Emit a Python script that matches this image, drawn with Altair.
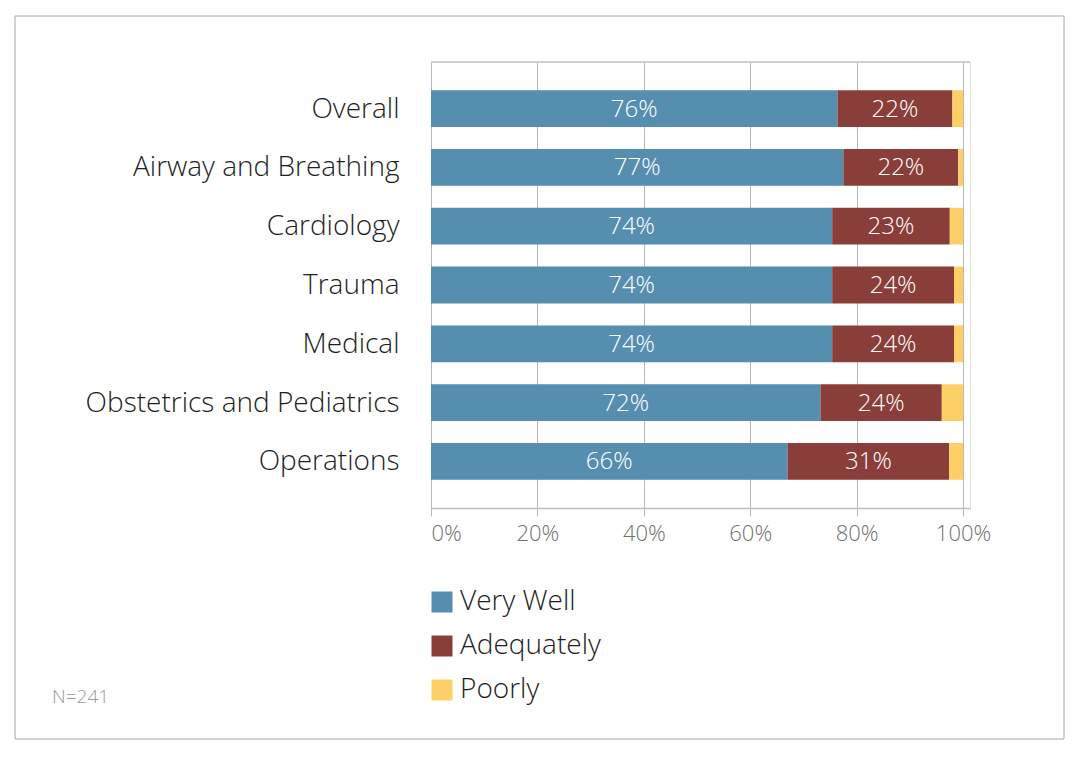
import altair as alt
import pandas as pd

categories = ["Overall", "Airway and Breathing", "Cardiology", "Trauma",
              "Medical", "Obstetrics and Pediatrics", "Operations"]
responses = ["Very Well", "Adequately", "Poorly"]
very_well = [76.4, 77.5, 75.4, 75.4, 75.4, 73.2, 67.0]
adequately = [21.6, 21.6, 22.1, 22.9, 22.9, 22.8, 30.4]
poorly = [2.0, 0.9, 2.5, 1.7, 1.7, 4.0, 2.6]
very_well_labels = ["76%", "77%", "74%", "74%", "74%", "72%", "66%"]
adequately_labels = ["22%", "22%", "23%", "24%", "24%", "24%", "31%"]
colors = ["#558EAF", "#8A3E39", "#FDD067"]

rows = []
for i, c in enumerate(categories):
    rows.append({"category": c, "response": "Very Well", "value": very_well[i], "order": 0, "label": very_well_labels[i]})
    rows.append({"category": c, "response": "Adequately", "value": adequately[i], "order": 1, "label": adequately_labels[i]})
    rows.append({"category": c, "response": "Poorly", "value": poorly[i], "order": 2, "label": ""})
df = pd.DataFrame(rows)

FONT = "Open Sans"
FW = 300
W, H = 539, 446

yscale = alt.Scale(paddingInner=0.375, paddingOuter=0.48)
xscale = alt.Scale(domain=[0, 101.3], nice=False)

bars = alt.Chart(df).mark_bar().encode(
    y=alt.Y("category:N", sort=categories, scale=yscale,
            axis=alt.Axis(title=None, labelFontSize=28, labelColor="#1e1e1e", labelFont=FONT,
                          labelFontWeight=FW, labelPadding=32, ticks=False, domain=False,
                          grid=False, labelLimit=500, labelOffset=1)),
    x=alt.X("value:Q", stack="zero", scale=xscale,
            axis=alt.Axis(title=None, values=[0, 20, 40, 60, 80, 100],
                          labelExpr="datum.value + '%'", grid=True, gridColor="#b8b8b8",
                          gridWidth=1, tickColor="#b8b8b8", tickSize=8, domainColor="#bdbdbd",
                          domainWidth=1.5, labelFontSize=22, labelColor="#707070",
                          labelFont=FONT, labelFontWeight=FW, labelPadding=7)),
    color=alt.Color("response:N", sort=responses,
                    scale=alt.Scale(domain=responses, range=colors),
                    legend=alt.Legend(title=None, orient="none", legendX=-3, legendY=526,
                                      padding=0, direction="vertical", symbolType="square",
                                      symbolSize=441, symbolStrokeWidth=0, symbolOpacity=1,
                                      labelFontSize=28, labelFont=FONT, labelFontWeight=FW,
                                      labelColor="#1e1e1e",
                                      rowPadding=16, labelOffset=4, labelLimit=400)),
    order=alt.Order("order:Q"),
)

labels = alt.Chart(df).transform_stack(
    stack="value", groupby=["category"], as_=["v0", "v1"],
    sort=[alt.SortField("order", order="ascending")],
).transform_filter("datum.label != ''").transform_calculate(
    mid="(datum.v0 + datum.v1) / 2"
).mark_text(color="white", fontSize=24, font=FONT, fontWeight=FW, baseline="middle", dy=1).encode(
    x=alt.X("mid:Q", scale=xscale),
    y=alt.Y("category:N", sort=categories, scale=yscale),
    text="label:N",
)

dummy = pd.DataFrame({"a": [0]})
top_line = alt.Chart(dummy).mark_rule(color="#c4c4c4", strokeWidth=1.5).encode(
    x=alt.value(0), x2=alt.value(W), y=alt.value(0))
border = alt.Chart(dummy).mark_rect(fill=None, stroke="#a8a8a8", strokeWidth=1).encode(
    x=alt.value(-416), x2=alt.value(633), y=alt.value(-46), y2=alt.value(677))
note = alt.Chart(dummy).mark_text(text="N=241", align="left", baseline="middle",
                                  fontSize=19, color="#9a9a9a", font=FONT, fontWeight=FW).encode(
    x=alt.value(-379), y=alt.value(635))

chart = alt.layer(border, top_line, bars, labels, note).properties(
    width=W, height=H,
    padding={"left": 423, "top": 54, "right": 95, "bottom": 233},
    autosize=alt.AutoSizeParams(type="none"),
).configure_view(stroke=None).configure(background="white")

chart.save("out.html", embed_options={"renderer": "svg", "actions": False})
